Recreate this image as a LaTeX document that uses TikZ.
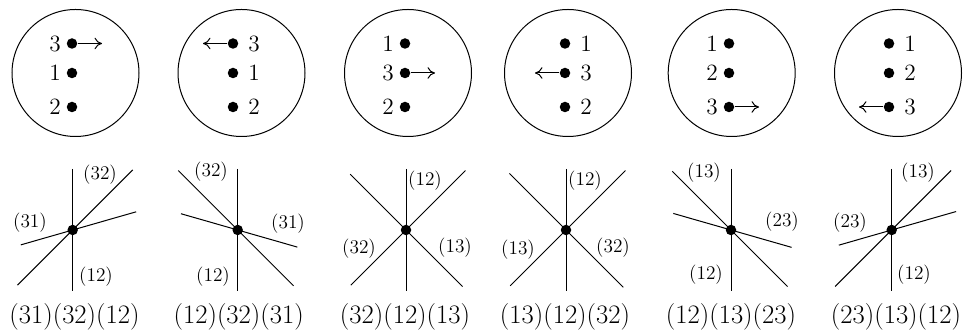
\documentclass[tikz,border=0pt]{standalone}
\usepackage{mathpazo}
\usetikzlibrary{arrows.meta}

\begin{document}
\begin{tikzpicture}[x=.6pt,y=.6pt,line width=.6pt,
    dot/.style={circle,fill=black,inner sep=0pt,minimum size=6.3pt},
    num/.style={inner sep=0pt,font=\fontsize{14}{16}\selectfont},
    lab/.style={inner sep=0pt,font=\fontsize{11.6}{13}\selectfont},
    captxt/.style={inner sep=0pt,font=\fontsize{16}{18}\selectfont},
    mv/.style={-{To[length=4.5pt,width=7pt]}}]
    \useasboundingbox (0,0) rectangle (967,334);
    % Obere Reihe: Kreise mit drei Punkten, einer davon wandert.
    \foreach \k/\cx/\dx/\ra/\rb/\rc/\row/\dir in {1/75.5/72/3/1/2/1/1,
        2/241.5/233/3/1/2/1/-1,3/408/405/1/3/2/2/1,4/568/565/1/3/2/2/-1,
        5/731.7/729/1/2/3/3/1,6/898/889/1/2/3/3/-1}{
      \node[circle,draw,inner sep=0pt,minimum size=127*.6pt] (o\k) at (\cx,261) {};
      \foreach \n/\y/\i in {\ra/290.5/1,\rb/261/2,\rc/227/3}{
        \node[dot] (c\k\i) at (\dx,\y) {};
        \ifnum\dir=1
          \node[num] (t\k\i) at (\dx-17,\y) {\n};
        \else
          \node[num] (t\k\i) at (\dx+21,\y) {\n};
        \fi
      }
      \path (c\k\row) ++(\dir*30,0) coordinate (e\k);
      \draw[mv] (c\k\row) -- (e\k);
    }
    % Untere Reihe: Geradenbueschel.
    \foreach \k/\vx/\la/\ua/\da/\lb/\ub/\db/\cx/\txt in {
        1/72.7/45/85/78/16/66/54/74.5/{(31)(32)(12)},
        2/237.7/135/84/79/164/59/62/238.7/{(12)(32)(31)},
        3/406/45/84/78/135/79/80/405/{(32)(12)(13)},
        4/566/45/84/79/135/80/81/565/{(13)(12)(32)},
        5/731/135/83/80/164/60/63/731/{(12)(13)(23)},
        6/891.7/45/84/80/16/67/55/896/{(23)(13)(12)}}{
      \node[dot] (v\k) at (\vx,104) {};
      \path (v\k) ++(0,61) coordinate (n\k);
      \path (v\k) ++(0,-61) coordinate (s\k);
      \path (v\k) ++(\la:\ua) coordinate (a\k);
      \path (v\k) ++(\la+180:\da) coordinate (b\k);
      \path (v\k) ++(\lb:\ub) coordinate (p\k);
      \path (v\k) ++(\lb+180:\db) coordinate (q\k);
      \draw (n\k) -- (s\k);
      \draw (a\k) -- (b\k);
      \draw (p\k) -- (q\k);
      \node[captxt] (f\k) at (\cx,17) {\txt};
    }
    \node[lab] (m11) at (100,159) {(32)};
    \node[lab] (m12) at (30,111) {(31)};
    \node[lab] (m13) at (96,57) {(12)};
    \node[lab] (m21) at (211,162) {(32)};
    \node[lab] (m22) at (288,110) {(31)};
    \node[lab] (m23) at (213,57) {(12)};
    \node[lab] (m31) at (425,153) {(12)};
    \node[lab] (m32) at (359,85) {(32)};
    \node[lab] (m33) at (455,86) {(13)};
    \node[lab] (m41) at (585,153) {(12)};
    \node[lab] (m42) at (518,84) {(13)};
    \node[lab] (m43) at (613,86) {(32)};
    \node[lab] (m51) at (704,161) {(13)};
    \node[lab] (m52) at (782,112) {(23)};
    \node[lab] (m53) at (706,59) {(12)};
    \node[lab] (m61) at (918,161) {(13)};
    \node[lab] (m62) at (850,111) {(23)};
    \node[lab] (m63) at (914,59) {(12)};
\end{tikzpicture}
\end{document}
